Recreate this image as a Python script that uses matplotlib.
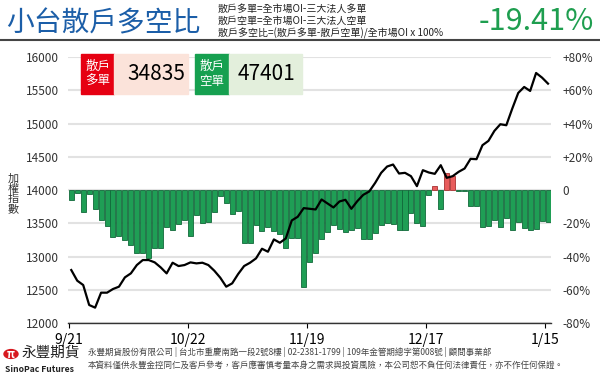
import matplotlib
matplotlib.use("Agg")
import matplotlib.pyplot as plt
from matplotlib.patches import Rectangle, Circle

plt.rcParams['font.family'] = ['Noto Sans CJK TC', 'DejaVu Sans']

# 散戶多空比 (%) 每日
ratio = [-5.8, -2.0, -13.0, -2.5, -11.6, -17.8, -21.6, -28.2, -27.3, -30.0,
         -32.7, -37.6, -38.0, -41.0, -35.0, -35.0, -22.0, -24.0, -20.2, -18.0,
         -27.8, -14.8, -19.8, -19.0, -13.0, -3.8, -7.6, -14.6, -12.8, -31.6,
         -31.6, -20.8, -24.4, -22.0, -24.4, -26.2, -35.0, -29.0, -29.0, -58.0,
         -43.0, -37.6, -29.6, -25.0, -21.0, -23.4, -25.0, -24.0, -23.0, -29.6,
         -29.6, -26.0, -21.0, -20.0, -20.4, -24.0, -24.0, -14.0, -20.0, -21.6,
         -3.0, 2.4, -11.6, 10.6, 8.4, -0.3, -0.5, -9.6, -9.6, -22.4,
         -21.6, -18.0, -22.0, -17.0, -24.0, -19.0, -23.0, -24.0, -23.4, -18.4,
         -19.41]

# 加權指數
taiex = [12800, 12640, 12575, 12275, 12235, 12460, 12460, 12515, 12550, 12690,
         12750, 12875, 12950, 12950, 12915, 12840, 12750, 12910, 12860, 12875,
         12915, 12900, 12910, 12875, 12790, 12685, 12550, 12600, 12740, 12860,
         12910, 12975, 13120, 13075, 13260, 13210, 13275, 13545, 13600, 13730,
         13720, 13710, 13860, 13800, 13740, 13830, 13855, 13720, 13835, 13930,
         13980, 14110, 14260, 14355, 14385, 14250, 14260, 14210, 14060, 14300,
         14265, 14245, 14375, 14185, 14210, 14275, 14325, 14470, 14465, 14675,
         14740, 14890, 14990, 14975, 15225, 15460, 15550, 15490, 15760, 15690,
         15600]

tick_idx = [0, 20, 40, 60, 80]
tick_labels = ['9/21', '10/22', '11/19', '12/17', '1/15']

left_ticks = list(range(12000, 16001, 500))
right_ticks = list(range(-80, 81, 20))
right_labels = ['-80%', '-60%', '-40%', '-20%', '0', '+20%', '+40%', '+60%', '+80%']

long_oi = 34835
short_oi = 47401
last_ratio = '-19.41%'

W, H = 600, 378
def fx(px): return px / W
def fy(py): return 1 - py / H

fig = plt.figure(figsize=(6, 3.78), dpi=100)

# --- encabezado ---
fig.text(fx(6), fy(23), '小台散戶多空比', fontsize=20, color='#1b5ea8', va='center', ha='left')
defs = ['散戶多單=全市場OI-三大法人多單',
        '散戶空單=全市場OI-三大法人空單',
        '散戶多空比=(散戶多單-散戶空單)/全市場OI x 100%']
for k, s in enumerate(defs):
    fig.text(fx(218), fy(9 + 12 * k), s, fontsize=7.2, color='#222222', va='center', ha='left')
fig.text(fx(594), fy(21), last_ratio, fontsize=22, color='#1e9e4f', va='center', ha='right')
fig.add_artist(plt.Line2D([0, 1], [fy(40), fy(40)], color='#444444', lw=1.5))

# --- grafico ---
ax2 = fig.add_axes([fx(68.3), fy(323.3), fx(551) - fx(68.3), fy(57) - fy(323.3)])
ax = ax2.twinx()
ax.set_zorder(ax2.get_zorder() + 1)
ax.patch.set_visible(False)

x = list(range(len(ratio)))
colors = ['#e85c5c' if v > 0 else '#1f9e55' for v in ratio]
edges = ['#a83232' if v > 0 else '#11693a' for v in ratio]
ax2.bar(x, ratio, width=0.84, color=colors, edgecolor=edges, linewidth=0.6, zorder=2)
ax2.set_ylim(-80, 80)
ax2.set_xlim(-0.5, 80.5)
ax2.set_yticks(right_ticks)
ax2.set_yticklabels(right_labels)
ax2.yaxis.tick_right()
ax2.tick_params(axis='y', length=0, pad=8, labelsize=8.5, labelcolor='#333333')
ax2.grid(axis='y', color='#e2e2e2', lw=1.5, zorder=0)
ax2.set_axisbelow(True)
ax2.set_xticks([])
for sp in ax2.spines.values():
    sp.set_visible(False)

ax.plot(x, taiex, color='black', lw=1.6, zorder=3)
ax.set_ylim(12000, 16000)
ax.set_xlim(-0.5, 80.5)
ax.set_yticks(left_ticks)
ax.yaxis.tick_left()
ax.tick_params(axis='y', length=0, pad=7, labelsize=8.5, labelcolor='#333333')
ax.set_xticks([i - 0.45 for i in tick_idx])
ax.set_xticklabels(tick_labels)
ax.tick_params(axis='x', direction='inout', length=8, width=1, color='#333333',
               pad=2.5, labelsize=8.5, labelcolor='#333333')
for name in ['top', 'left', 'right']:
    ax.spines[name].set_visible(False)
ax.spines['bottom'].set_color('#333333')
ax.spines['bottom'].set_linewidth(1)

fig.text(fx(13), fy(194), '加\n權\n指\n數', fontsize=8, color='#333333',
         ha='center', va='center', linespacing=1.0)

# --- cuadros de cifras ---
fig.add_artist(Rectangle((fx(81), fy(94)), fx(114) - fx(81), fy(54) - fy(94), color='#e60012'))
fig.add_artist(Rectangle((fx(114), fy(94)), fx(188) - fx(114), fy(54) - fy(94), color='#fbe3da'))
fig.add_artist(Rectangle((fx(195), fy(94)), fx(229) - fx(195), fy(54) - fy(94), color='#16a050'))
fig.add_artist(Rectangle((fx(229), fy(94)), fx(302) - fx(229), fy(54) - fy(94), color='#e3efdc'))
fig.text(fx(97.5), fy(74), '散戶\n多單', fontsize=9, color='white', ha='center', va='center', linespacing=1.2)
fig.text(fx(212), fy(74), '散戶\n空單', fontsize=9, color='white', ha='center', va='center', linespacing=1.2)
fig.text(fx(156), fy(74), str(long_oi), fontsize=15, color='black', ha='center', va='center')
fig.text(fx(266), fy(74), str(short_oi), fontsize=15, color='black', ha='center', va='center')

# --- pie ---
fig.add_artist(Circle((fx(11), fy(354)), 7 / W, color='#d7191f', transform=fig.transFigure))
fig.text(fx(11), fy(354), 'π', fontsize=8, color='white', ha='center', va='center', fontweight='bold')
fig.text(fx(21), fy(353), '永豐期貨', fontsize=10.5, color='#222222', ha='left', va='center')
fig.text(fx(5), fy(369), 'SinoPac Futures', fontsize=6.2, color='#222222', ha='left', va='center', fontweight='bold')
fig.text(fx(88), fy(352), '永豐期貨股份有限公司 | 台北市重慶南路一段2號8樓 | 02-2381-1799 | 109年金管期總字第008號 | 顧問事業部',
         fontsize=6.1, color='#444444', ha='left', va='center')
fig.text(fx(88), fy(365), '本資料僅供永豐金控同仁及客戶參考，客戶應審慎考量本身之需求與投資風險，本公司恕不負任何法律責任，亦不作任何保證。',
         fontsize=6.1, color='#444444', ha='left', va='center')

fig.savefig('out.png', dpi=100)
